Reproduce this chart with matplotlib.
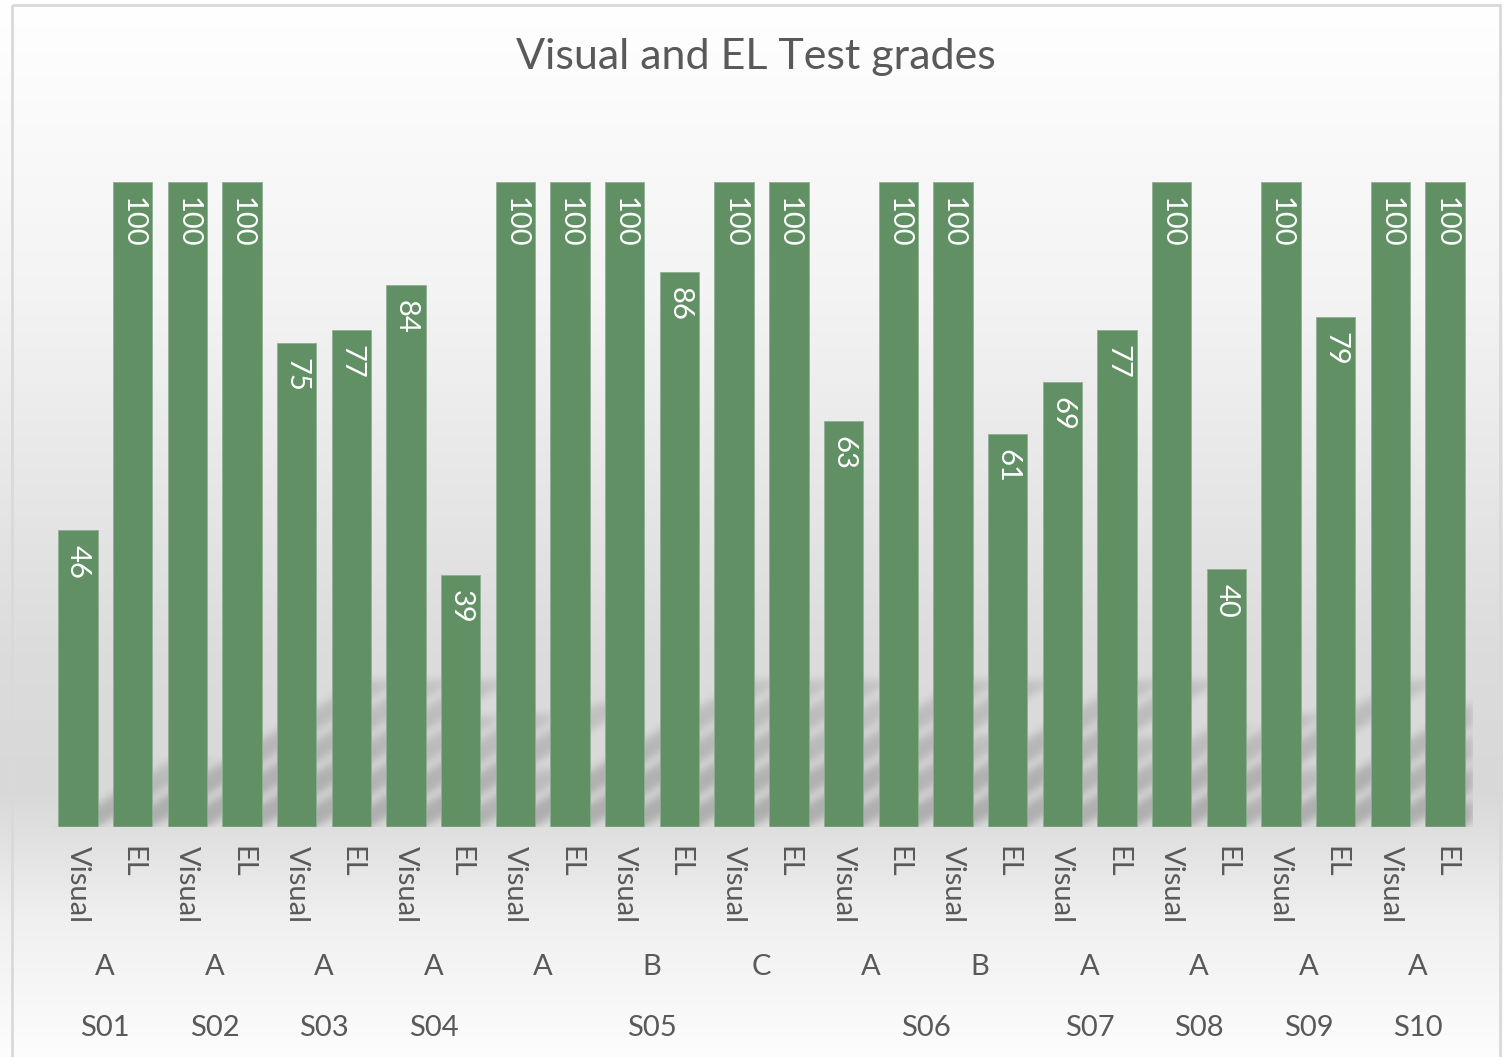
import numpy as np
import matplotlib
matplotlib.use("Agg")
import matplotlib.pyplot as plt
from matplotlib import transforms
from matplotlib.patches import Rectangle

plt.rcParams['font.family'] = ['Lato', 'DejaVu Sans']

# data
letters = ['A', 'A', 'A', 'A', 'A', 'B', 'C', 'A', 'B', 'A', 'A', 'A', 'A']
group_student = ['S01', 'S02', 'S03', 'S04', 'S05', 'S05', 'S05',
                 'S06', 'S06', 'S07', 'S08', 'S09', 'S10']
students = ['S01', 'S02', 'S03', 'S04', 'S05', 'S06', 'S07', 'S08', 'S09', 'S10']
tests = ['Visual', 'EL']
visual = [46, 100, 75, 84, 100, 100, 100, 63, 100, 69, 100, 100, 100]
el = [100, 100, 77, 39, 100, 86, 100, 100, 61, 77, 40, 79, 100]

values = []
for v, e in zip(visual, el):
    values += [v, e]
values = np.array(values)
x = np.arange(len(values))

W, H = 1503, 1057
fig = plt.figure(figsize=(W / 100, H / 100), dpi=100)
txt = '#595959'
green = '#629065'

# chart area background: vertical gradient + light border
bg = fig.add_axes([0, 0, 1, 1], zorder=-2)
py = np.array([0, 300, 650, 790, 840, 920, 1057])
gv = np.array([255, 243, 220, 216, 225, 240, 253]) / 255
col = np.interp(np.arange(H), py, gv)
bg.imshow(np.repeat(col[:, None, None], 3, axis=2), extent=(0, W, H, 0), aspect='auto')
bg.add_patch(Rectangle((12, 5), 1488, 1060, fill=False, ec='#d9d9d9', lw=2))
bg.set_xlim(0, W); bg.set_ylim(H, 0); bg.axis('off')

ax = fig.add_axes([50.5 / W, 1 - 827 / H, 1422 / W, 645 / H])
ax.patch.set_visible(False)
ax.set_xlim(-0.5, len(values) - 0.5)
ax.set_ylim(0, 100)

# soft slanted shadows behind the bars
nx, ny = 1422, 194
gx = np.linspace(-0.5, len(values) - 0.5, nx)
gy = np.linspace(0, 30, ny)
XX, YY = np.meshgrid(gx, gy)
mask = np.zeros((ny, nx))
bw = 0.72
for xi, v in zip(x, values):
    hs = 0.228 * v
    xs = XX - 0.2 * YY
    m = (YY <= hs) & (xs >= xi - bw / 2) & (xs <= xi + bw / 2)
    mask = np.maximum(mask, m * (1 - 0.5 * YY / hs))

r = 12
k = np.exp(-0.5 * (np.arange(-r, r + 1) / 4.0) ** 2)
k /= k.sum()
pad = np.pad(mask, r)
blur = np.zeros_like(pad)
for i, w in enumerate(k):
    blur += w * np.roll(pad, i - r, axis=1)
out = np.zeros_like(blur)
for i, w in enumerate(k):
    out += w * np.roll(blur, i - r, axis=0)
mask = out[r:-r, r:-r]
rgba = np.zeros((ny, nx, 4))
rgba[..., 3] = mask * 0.22
ax.imshow(rgba, extent=(-0.5, len(values) - 0.5, 0, 30), origin='lower',
          aspect='auto', zorder=1)

ax.bar(x, values, width=bw, color=green, edgecolor='#8fb092', linewidth=0.6, zorder=2)

for xi, v in zip(x, values):
    ax.annotate(str(v), (xi, v), xytext=(0, -15), textcoords='offset pixels',
                rotation=270, ha='center', va='top', color='white', fontsize=21, zorder=3)

ax.set_xticks(x, tests * len(letters), rotation=270, fontsize=21, color=txt)
ax.tick_params(axis='x', length=0, pad=14)
ax.set_yticks([])
for s in ax.spines.values():
    s.set_visible(False)
ax.axhline(0, color='#d0d0d0', lw=1, zorder=2)

tr = transforms.blended_transform_factory(ax.transData, fig.transFigure)
for g, lab in enumerate(letters):
    ax.text(2 * g + 0.5, 1 - 967 / H, lab, transform=tr, ha='center', va='center',
            fontsize=21, color=txt)
for s in students:
    idx = [g for g, gs in enumerate(group_student) if gs == s]
    xc = np.mean([2 * g + 0.5 for g in idx])
    ax.text(xc, 1 - 1028 / H, s, transform=tr, ha='center', va='center',
            fontsize=21, color=txt)

fig.text(756 / W, 1 - 57 / H, 'Visual and EL Test grades', ha='center', va='center',
         fontsize=31, color=txt)

fig.savefig('out.png', dpi=100)
